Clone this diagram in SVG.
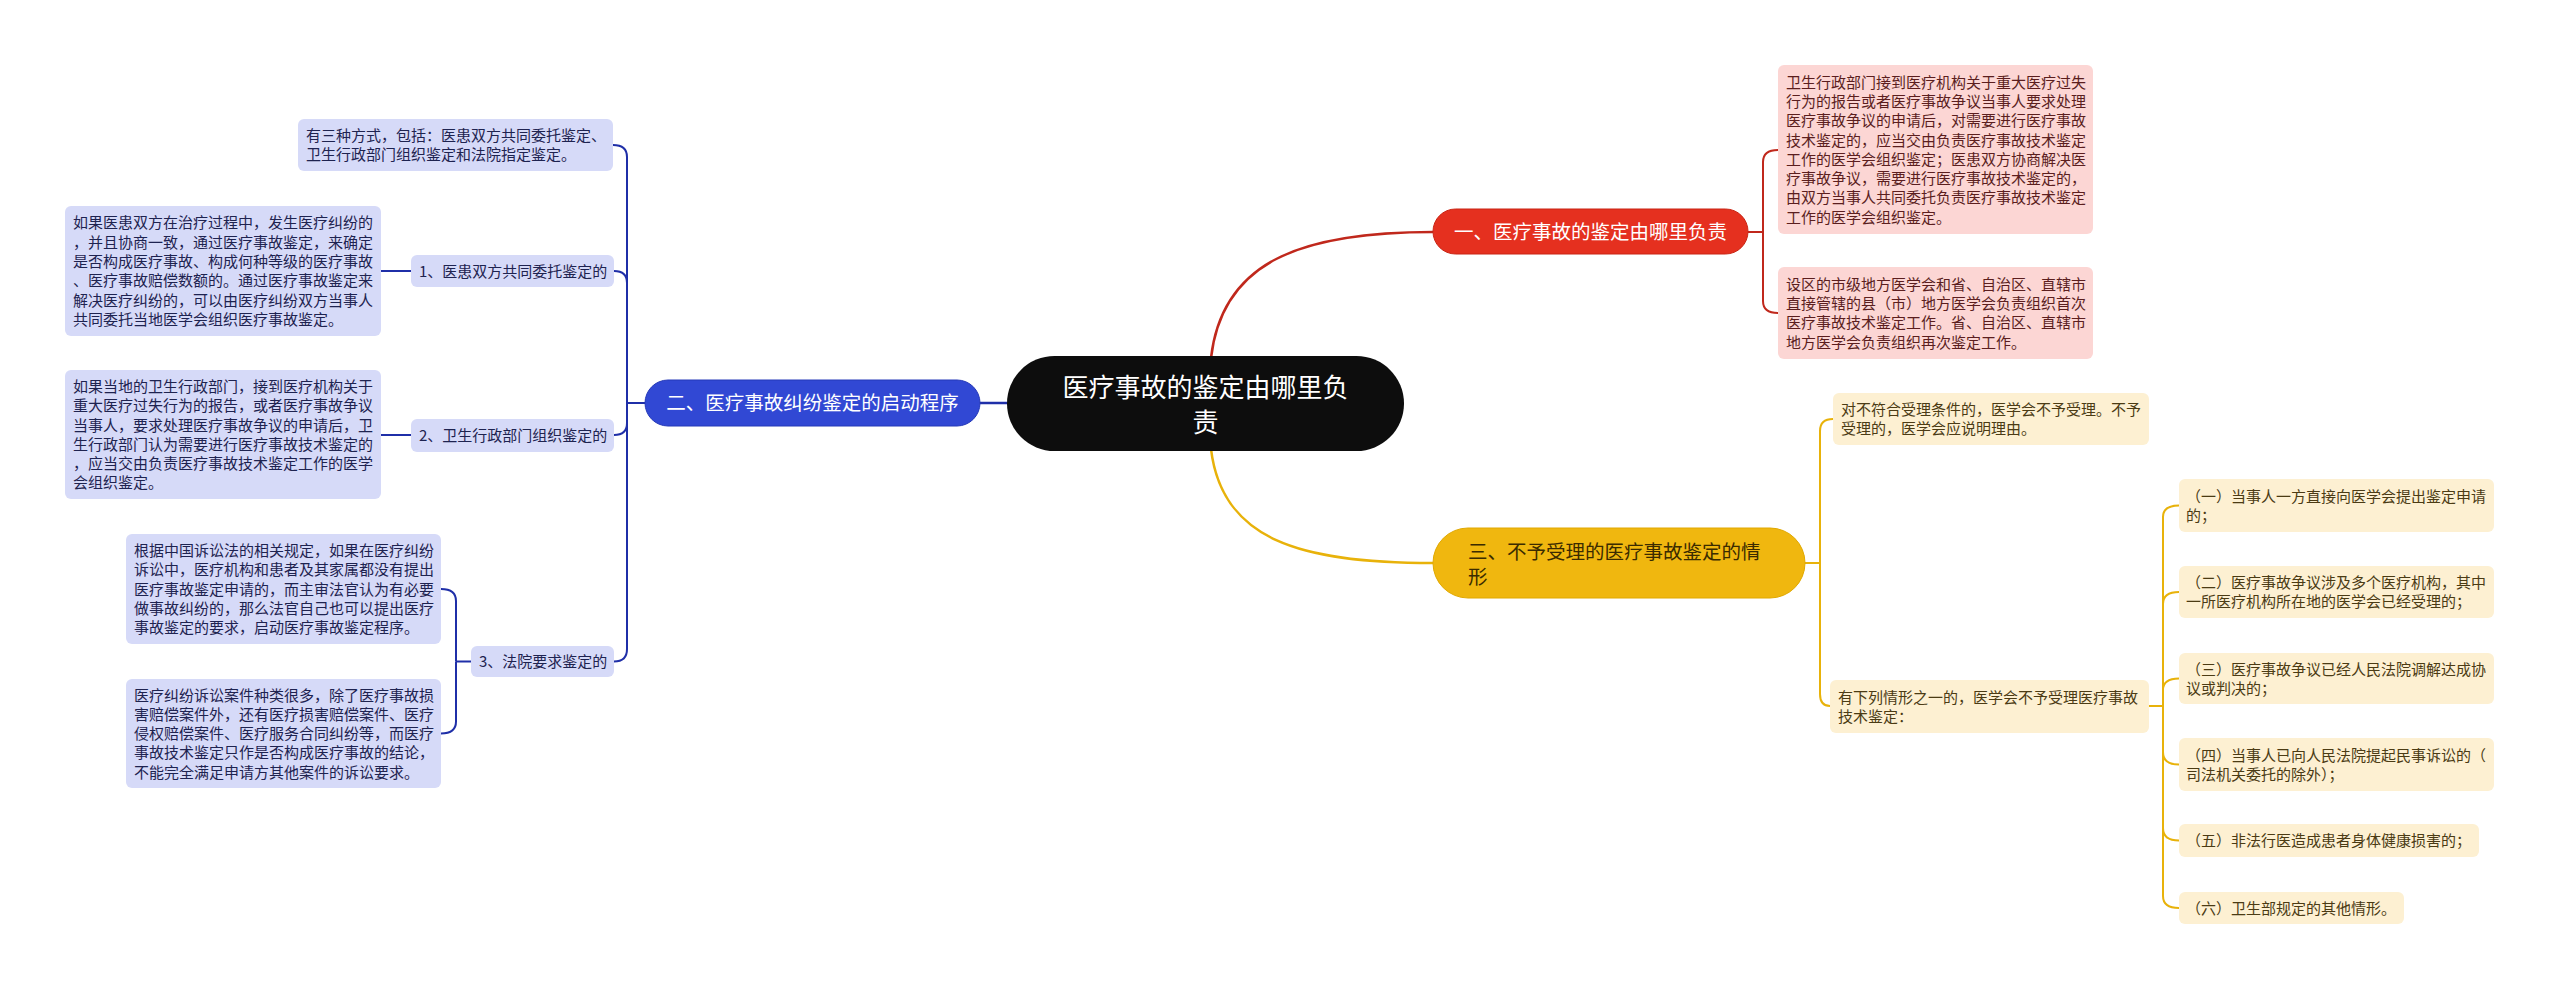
<svg xmlns="http://www.w3.org/2000/svg" width="2560" height="990" viewBox="0 0 2560 990">
<style>
text{font-family:"Noto Sans CJK SC","Noto Sans",sans-serif;}
.t15{font-size:15px;}
.lr{fill:#fcd6d4;}
.lb{fill:#d6daf8;}
.ly{fill:#fdf0d2;}
.tr{fill:#5b1e1e;}
.tb{fill:#1e2350;}
.ty{fill:#4b3b14;}
.cr{fill:none;stroke:#c0281c;stroke-width:2;}
.cb{fill:none;stroke:#1f2fa8;stroke-width:2;}
.cy{fill:none;stroke:#e8b20a;stroke-width:2;}
.main{stroke-width:2.5;}
</style>
<rect x="0" y="0" width="2560" height="990" fill="#ffffff"/>

<g id="connectors">
  <!-- main -->
  <path class="cr main" d="M1211,358 C1222,262 1300,232 1433,232"/>
  <path class="cy main" d="M1211,449 C1222,540 1300,563 1433,563"/>
  <path class="cb main" d="M1007,403 H980"/>
  <!-- red bracket -->
  <path class="cr" d="M1748,232 H1763 V162 Q1763,150 1778,150"/>
  <path class="cr" d="M1763,232 V301 Q1763,313 1778,313"/>
  <!-- yellow bracket -->
  <path class="cy" d="M1805,563 H1820 V431 Q1820,419 1833,419"/>
  <path class="cy" d="M1820,563 V694 Q1820,706 1830,706"/>
  <!-- yellow sub bracket -->
  <path class="cy" d="M2149,706 H2163"/>
  <path class="cy" d="M2163,706 V517 Q2163,505.5 2179,505.5"/>
  <path class="cy" d="M2163,706 V604 Q2163,592 2179,592"/>
  <path class="cy" d="M2163,706 V690 Q2163,678.5 2179,678.5"/>
  <path class="cy" d="M2163,706 V752 Q2163,764.5 2179,764.5"/>
  <path class="cy" d="M2163,706 V828 Q2163,840.5 2179,840.5"/>
  <path class="cy" d="M2163,706 V896 Q2163,908 2179,908"/>
  <!-- blue bracket -->
  <path class="cb" d="M645,403 H627"/>
  <path class="cb" d="M627,403 V157 Q627,145 613,145"/>
  <path class="cb" d="M627,403 V283 Q627,271 614,271"/>
  <path class="cb" d="M627,403 V423 Q627,435 614,435"/>
  <path class="cb" d="M627,403 V649 Q627,661.5 614,661.5"/>
  <path class="cb" d="M411,271 H381"/>
  <path class="cb" d="M411,435 H381"/>
  <path class="cb" d="M471,661.5 H456"/>
  <path class="cb" d="M456,661.5 V601 Q456,589 441,589"/>
  <path class="cb" d="M456,661.5 V721.5 Q456,733.5 441,733.5"/>
</g>

<g id="center">
  <rect x="1007" y="356" width="397" height="95" rx="47.5" fill="#0d0d0d"/>
  <text x="1205.5" y="397" font-size="26" fill="#ffffff" text-anchor="middle">医疗事故的鉴定由哪里负</text>
  <text x="1205.5" y="432" font-size="26" fill="#ffffff" text-anchor="middle">责</text>
</g>

<g id="b1">
  <rect x="1433" y="209" width="315" height="45" rx="22.5" fill="#e5301f" stroke="#c92514" stroke-width="1"/>
  <text x="1590.5" y="239.4" font-size="19.5" fill="#ffffff" text-anchor="middle">一、医疗事故的鉴定由哪里负责</text>
</g>
<g id="b1-l1">
  <rect class="lr" x="1778" y="65" width="315" height="169" rx="6"/>
  <text class="t15 tr">
    <tspan x="1786" y="87.6">卫生行政部门接到医疗机构关于重大医疗过失</tspan>
    <tspan x="1786" y="106.9">行为的报告或者医疗事故争议当事人要求处理</tspan>
    <tspan x="1786" y="126.2">医疗事故争议的申请后，对需要进行医疗事故</tspan>
    <tspan x="1786" y="145.5">技术鉴定的，应当交由负责医疗事故技术鉴定</tspan>
    <tspan x="1786" y="164.8">工作的医学会组织鉴定；医患双方协商解决医</tspan>
    <tspan x="1786" y="184.1">疗事故争议，需要进行医疗事故技术鉴定的，</tspan>
    <tspan x="1786" y="203.4">由双方当事人共同委托负责医疗事故技术鉴定</tspan>
    <tspan x="1786" y="222.7">工作的医学会组织鉴定。</tspan>
  </text>
</g>
<g id="b1-l2">
  <rect class="lr" x="1778" y="267" width="315" height="92" rx="6"/>
  <text class="t15 tr">
    <tspan x="1786" y="289.6">设区的市级地方医学会和省、自治区、直辖市</tspan>
    <tspan x="1786" y="308.9">直接管辖的县（市）地方医学会负责组织首次</tspan>
    <tspan x="1786" y="328.2">医疗事故技术鉴定工作。省、自治区、直辖市</tspan>
    <tspan x="1786" y="347.5">地方医学会负责组织再次鉴定工作。</tspan>
  </text>
</g>

<g id="b3">
  <rect x="1433" y="528" width="372" height="70" rx="35" fill="#f0b70f" stroke="#e0a800" stroke-width="1"/>
  <text font-size="19.5" fill="#3b2b00">
    <tspan x="1468" y="559">三、不予受理的医疗事故鉴定的情</tspan>
    <tspan x="1468" y="583.5">形</tspan>
  </text>
</g>
<g id="b3-l1">
  <rect class="ly" x="1833" y="393" width="316" height="52" rx="6"/>
  <text class="t15 ty">
    <tspan x="1841" y="415">对不符合受理条件的，医学会不予受理。不予</tspan>
    <tspan x="1841" y="434.3">受理的，医学会应说明理由。</tspan>
  </text>
</g>
<g id="b3-l2">
  <rect class="ly" x="1830" y="680" width="319" height="53" rx="6"/>
  <text class="t15 ty">
    <tspan x="1838" y="702.5">有下列情形之一的，医学会不予受理医疗事故</tspan>
    <tspan x="1838" y="721.8">技术鉴定：</tspan>
  </text>
</g>
<g id="b3-s1">
  <rect class="ly" x="2179" y="479" width="315" height="53" rx="6"/>
  <text class="t15 ty">
    <tspan x="2186" y="501.5">（一）当事人一方直接向医学会提出鉴定申请</tspan>
    <tspan x="2186" y="520.8">的；</tspan>
  </text>
</g>
<g id="b3-s2">
  <rect class="ly" x="2179" y="566" width="315" height="52" rx="6"/>
  <text class="t15 ty">
    <tspan x="2186" y="588">（二）医疗事故争议涉及多个医疗机构，其中</tspan>
    <tspan x="2186" y="607.3">一所医疗机构所在地的医学会已经受理的；</tspan>
  </text>
</g>
<g id="b3-s3">
  <rect class="ly" x="2179" y="653" width="315" height="51" rx="6"/>
  <text class="t15 ty">
    <tspan x="2186" y="674.5">（三）医疗事故争议已经人民法院调解达成协</tspan>
    <tspan x="2186" y="693.8">议或判决的；</tspan>
  </text>
</g>
<g id="b3-s4">
  <rect class="ly" x="2179" y="738" width="315" height="53" rx="6"/>
  <text class="t15 ty">
    <tspan x="2186" y="760.5">（四）当事人已向人民法院提起民事诉讼的（</tspan>
    <tspan x="2186" y="779.8">司法机关委托的除外）；</tspan>
  </text>
</g>
<g id="b3-s5">
  <rect class="ly" x="2179" y="824" width="300" height="33" rx="6"/>
  <text class="t15 ty" x="2186" y="846.1">（五）非法行医造成患者身体健康损害的；</text>
</g>
<g id="b3-s6">
  <rect class="ly" x="2179" y="892" width="225" height="32" rx="6"/>
  <text class="t15 ty" x="2186" y="913.6">（六）卫生部规定的其他情形。</text>
</g>

<g id="b2">
  <rect x="645" y="380" width="335" height="46" rx="23" fill="#3148d4" stroke="#2438b8" stroke-width="1"/>
  <text x="812.5" y="410.4" font-size="19.5" fill="#ffffff" text-anchor="middle">二、医疗事故纠纷鉴定的启动程序</text>
</g>
<g id="b2-l0">
  <rect class="lb" x="298" y="119" width="315" height="52" rx="6"/>
  <text class="t15 tb">
    <tspan x="306" y="141">有三种方式，包括：医患双方共同委托鉴定、</tspan>
    <tspan x="306" y="160.3">卫生行政部门组织鉴定和法院指定鉴定。</tspan>
  </text>
</g>
<g id="b2-k1">
  <rect class="lb" x="411" y="255" width="203" height="32" rx="6"/>
  <text class="t15 tb" x="419" y="276.6">1、医患双方共同委托鉴定的</text>
</g>
<g id="b2-k1-l">
  <rect class="lb" x="65" y="206" width="316" height="130" rx="6"/>
  <text class="t15 tb">
    <tspan x="73" y="228.4">如果医患双方在治疗过程中，发生医疗纠纷的</tspan>
    <tspan x="73" y="247.7">，并且协商一致，通过医疗事故鉴定，来确定</tspan>
    <tspan x="73" y="267">是否构成医疗事故、构成何种等级的医疗事故</tspan>
    <tspan x="73" y="286.3">、医疗事故赔偿数额的。通过医疗事故鉴定来</tspan>
    <tspan x="73" y="305.6">解决医疗纠纷的，可以由医疗纠纷双方当事人</tspan>
    <tspan x="73" y="324.9">共同委托当地医学会组织医疗事故鉴定。</tspan>
  </text>
</g>
<g id="b2-k2">
  <rect class="lb" x="411" y="419" width="203" height="33" rx="6"/>
  <text class="t15 tb" x="419" y="440.6">2、卫生行政部门组织鉴定的</text>
</g>
<g id="b2-k2-l">
  <rect class="lb" x="65" y="370" width="316" height="129" rx="6"/>
  <text class="t15 tb">
    <tspan x="73" y="391.9">如果当地的卫生行政部门，接到医疗机构关于</tspan>
    <tspan x="73" y="411.2">重大医疗过失行为的报告，或者医疗事故争议</tspan>
    <tspan x="73" y="430.5">当事人，要求处理医疗事故争议的申请后，卫</tspan>
    <tspan x="73" y="449.8">生行政部门认为需要进行医疗事故技术鉴定的</tspan>
    <tspan x="73" y="469.1">，应当交由负责医疗事故技术鉴定工作的医学</tspan>
    <tspan x="73" y="488.4">会组织鉴定。</tspan>
  </text>
</g>
<g id="b2-k3">
  <rect class="lb" x="471" y="646" width="143" height="31" rx="6"/>
  <text class="t15 tb" x="479" y="667.1">3、法院要求鉴定的</text>
</g>
<g id="b2-k3-l1">
  <rect class="lb" x="126" y="534" width="315" height="110" rx="6"/>
  <text class="t15 tb">
    <tspan x="134" y="556">根据中国诉讼法的相关规定，如果在医疗纠纷</tspan>
    <tspan x="134" y="575.3">诉讼中，医疗机构和患者及其家属都没有提出</tspan>
    <tspan x="134" y="594.6">医疗事故鉴定申请的，而主审法官认为有必要</tspan>
    <tspan x="134" y="613.9">做事故纠纷的，那么法官自己也可以提出医疗</tspan>
    <tspan x="134" y="633.2">事故鉴定的要求，启动医疗事故鉴定程序。</tspan>
  </text>
</g>
<g id="b2-k3-l2">
  <rect class="lb" x="126" y="679" width="315" height="109" rx="6"/>
  <text class="t15 tb">
    <tspan x="134" y="700.5">医疗纠纷诉讼案件种类很多，除了医疗事故损</tspan>
    <tspan x="134" y="719.8">害赔偿案件外，还有医疗损害赔偿案件、医疗</tspan>
    <tspan x="134" y="739.1">侵权赔偿案件、医疗服务合同纠纷等，而医疗</tspan>
    <tspan x="134" y="758.4">事故技术鉴定只作是否构成医疗事故的结论，</tspan>
    <tspan x="134" y="777.7">不能完全满足申请方其他案件的诉讼要求。</tspan>
  </text>
</g>
</svg>
